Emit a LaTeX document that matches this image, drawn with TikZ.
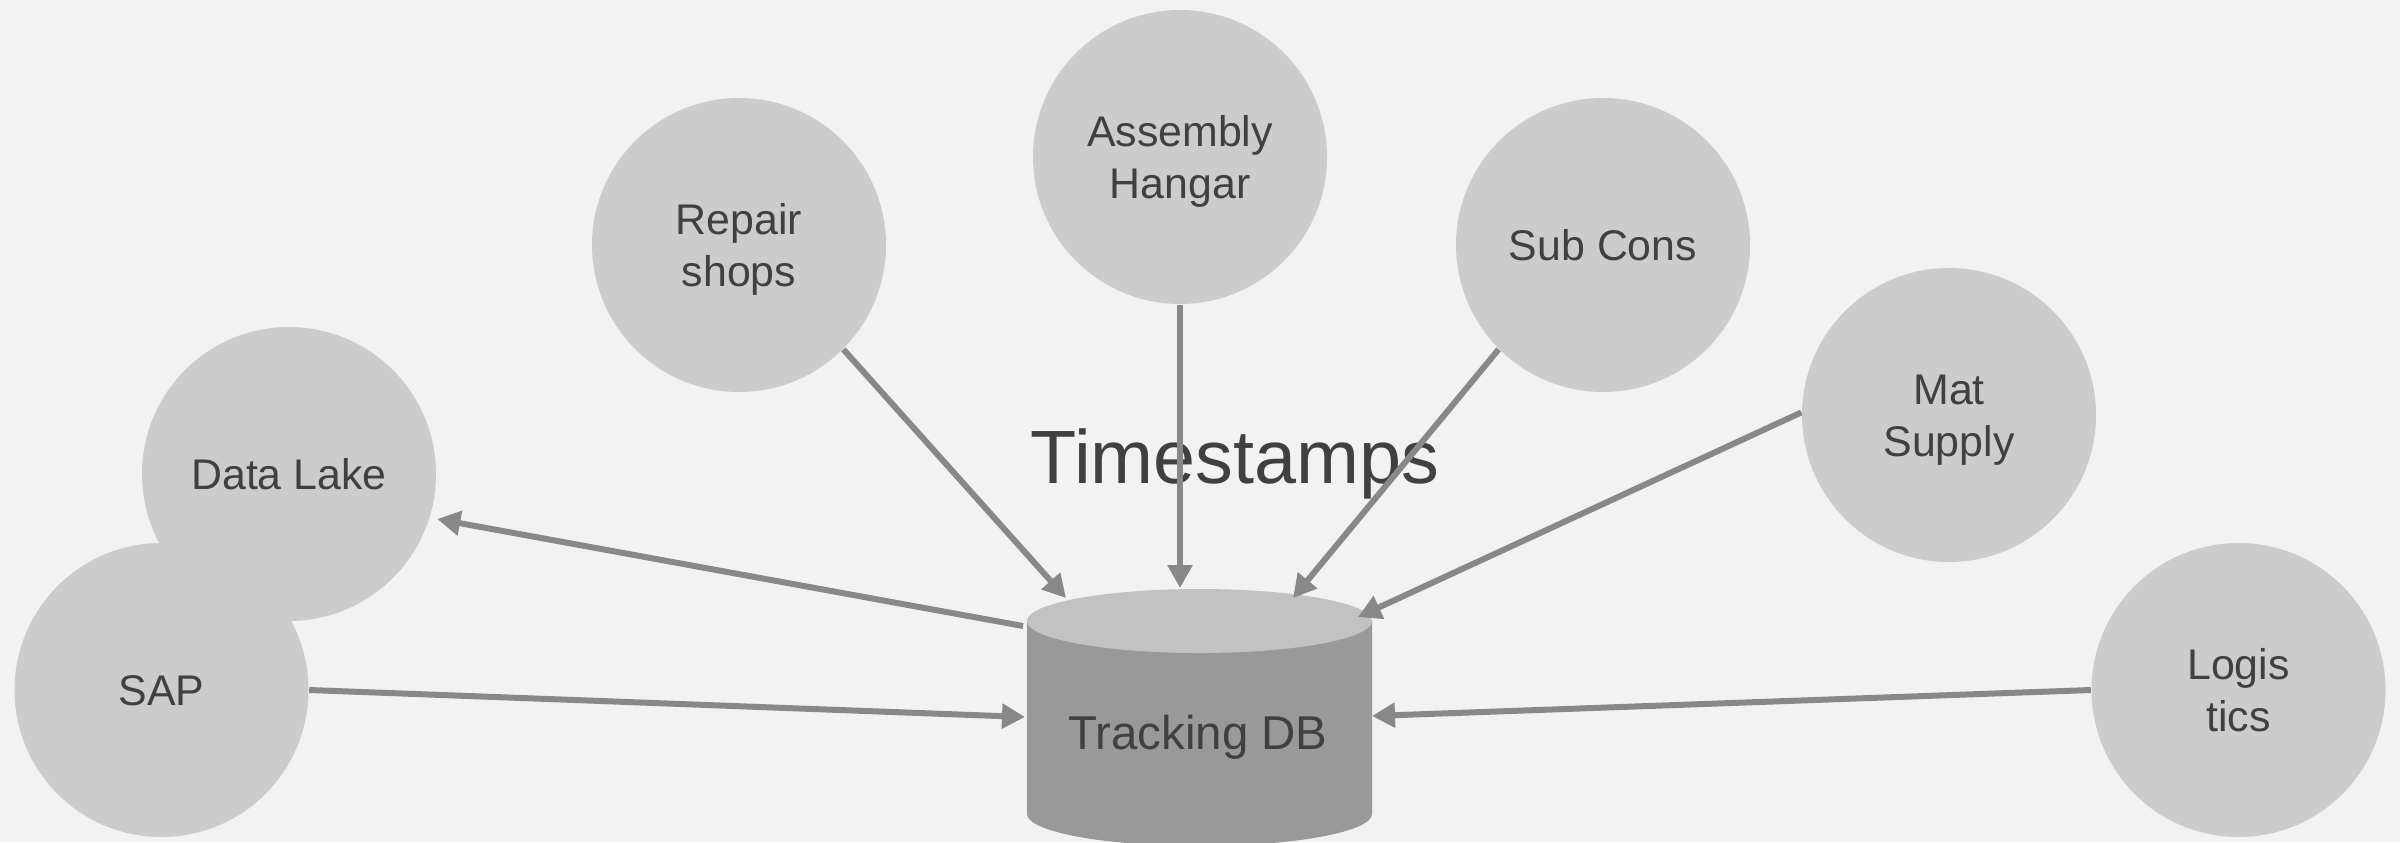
\documentclass[tikz,border=0pt]{standalone}
\usepackage{fontspec}
\setmainfont{Liberation Sans}
\usetikzlibrary{arrows.meta,calc}
\definecolor{bgc}{HTML}{F2F2F2}
\definecolor{bubble}{HTML}{CCCCCC}
\definecolor{ink}{HTML}{404040}
\definecolor{wire}{HTML}{888888}
\definecolor{dbbody}{HTML}{999999}
\definecolor{dbtop}{HTML}{C2C2C2}
% fixed line box so every label sits the same way in its bubble
\newcommand{\lbox}{\rule[-0.09cm]{0pt}{0.49cm}}
\tikzset{
  source/.style={circle, fill=bubble, draw=none, minimum size=2.94cm, inner sep=0pt,
    text=ink, align=center, font=\fontsize{12.2}{14.8}\selectfont},
  flow/.style={draw=wire, line width=0.06cm,
    -{Triangle[length=0.23cm, width=0.24cm]}}
}
\begin{document}
\begin{tikzpicture}
  % canvas
  \fill[bgc] (0,0) rectangle (24,8.42);
  \useasboundingbox (0,0) rectangle (24,8.42);

  % database cylinder
  \def\cx{11.995}\def\rx{1.725}\def\ry{0.32}\def\ytop{2.21}\def\ybot{0.28}
  \fill[dbbody] (\cx-\rx,\ytop) -- (\cx-\rx,\ybot)
    arc[start angle=180, end angle=360, x radius=\rx, y radius=\ry]
    -- (\cx+\rx,\ytop) -- cycle;
  \fill[dbtop] (\cx,\ytop) ellipse[x radius=\rx, y radius=\ry];
  \node[text=ink, font=\fontsize{13.5}{16}\selectfont] (db) at (11.98,1.05) {Tracking DB};

  % contact points on the cylinder
  \coordinate (inRep) at (10.66,2.44);
  \coordinate (inAh)  at (11.80,2.54);
  \coordinate (inSc)  at (12.93,2.44);
  \coordinate (inMs)  at (13.58,2.25);
  \coordinate (inSap) at (10.25,1.25);
  \coordinate (inLog) at (13.72,1.26);
  \coordinate (outDl) at (10.23,2.16);

  % sources
  \node[source] (dl)  at (2.89,3.68)  {\lbox Data Lake};
  \node[source] (sap) at (1.615,1.52) {\lbox SAP};
  \node[source] (rep) at (7.39,5.97)  {\lbox Repair\\\lbox shops};
  \node[source] (ah)  at (11.80,6.85) {\lbox Assembly\\\lbox Hangar};
  \node[source] (sc)  at (16.03,5.97) {\lbox Sub Cons};
  \node[source] (ms)  at (19.49,4.27) {\lbox Mat\\\lbox Supply};
  \node[source] (log) at (22.385,1.52) {\lbox Logis\\\lbox tics};

  % title
  \node[text=ink, anchor=base, font=\fontsize{21.5}{25}\selectfont] (ts) at (12.35,3.59) {Timestamps};

  % flows
  \draw[flow] (rep.-45)  -- (inRep);
  \draw[flow] (ah.-90)   -- (inAh);
  \draw[flow] (sc.-135)  -- (inSc);
  \draw[flow] (ms.179)   -- (inMs);
  \draw[flow] (sap.0)    -- (inSap);
  \draw[flow] (log.180)  -- (inLog);
  \draw[flow] (outDl) -- ($(dl.center)+(-16.9:1.55)$);
\end{tikzpicture}
\end{document}
